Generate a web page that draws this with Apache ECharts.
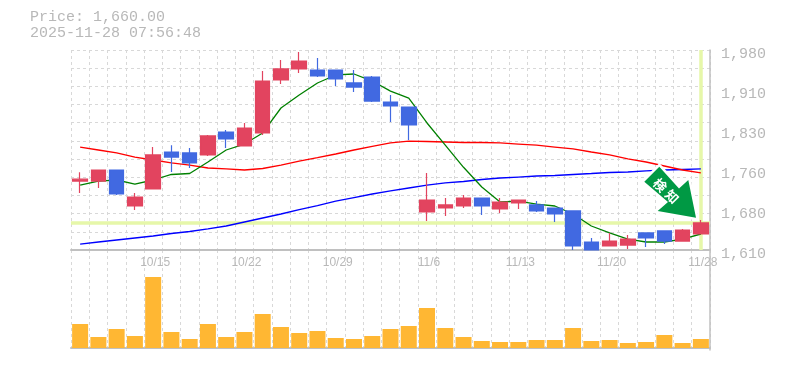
<!DOCTYPE html>
<html>
<head>
<meta charset="utf-8">
<style>html,body{margin:0;padding:0;background:#fff}#c{width:785px;height:370px}</style>
<script src="https://cdn.jsdelivr.net/npm/echarts@6/dist/echarts.min.js"></script>
</head>
<body>
<div id="c"></div>
<script>
const dates = ['10/8','10/9','10/10','10/14','10/15','10/16','10/17','10/20','10/21','10/22','10/23','10/24','10/27','10/28','10/29','10/30','10/31','11/4','11/5','11/6','11/7','11/10','11/11','11/12','11/13','11/14','11/17','11/18','11/19','11/20','11/21','11/25','11/26','11/27','11/28'];
const opens  = [1737.6,1737.6,1758,1691.4,1723,1791.3,1789.5,1785.8,1828.3,1802.4,1826.5,1924.5,1944.9,1943,1943,1919,1930,1883.8,1874.5,1680.3,1687.7,1691.4,1706.2,1685.9,1697,1693.3,1687.7,1682.2,1624.8,1617.4,1619.2,1641.5,1645.2,1626.6,1639.6];
const closes = [1741,1758,1713.6,1708,1785.8,1782,1771,1821,1815.4,1835.7,1922.6,1944.9,1959.6,1931.9,1926.4,1911.5,1885.6,1876.4,1841.3,1702.5,1693.3,1706.2,1691.4,1698.8,1702.5,1682.2,1676.6,1617.4,1610,1626.6,1630.3,1632.2,1626.6,1647,1660];
const lows   = [1715.5,1724.7,1711.8,1684,1723,1754.3,1761.7,1784,1798.7,1802.4,1822.8,1917,1937.5,1930,1913.4,1902.3,1883.8,1846.8,1813.5,1663.6,1673,1687.7,1674.8,1678.5,1685.9,1680.3,1661.8,1610,1610,1617.4,1612,1615.6,1621.1,1626.6,1639.6];
const highs  = [1754,1758,1758,1715.5,1800.5,1804,1798.7,1822.8,1832,1845,1941,1961.5,1976.3,1965.2,1943,1943,1931.9,1896.8,1874.5,1752.4,1706.2,1711.8,1706.2,1706.2,1702.5,1700.6,1687.7,1682.2,1632.2,1641.5,1637.8,1641.5,1645.2,1648.9,1665.5];
const maShort = [1730,1737.6,1739.5,1732,1739.5,1749.7,1751.5,1772.8,1795,1806,1826.5,1872.7,1896.8,1919,1933.8,1935.6,1922.6,1904,1891,1845,1804,1763,1726.5,1698.8,1700.6,1695,1691.4,1676.6,1654.4,1641.5,1630.3,1624.8,1624.8,1630.3,1639.6];
const maMid = [1800.5,1795,1789.5,1782,1776.5,1771,1767,1761.7,1759.9,1758,1760.8,1767,1774.6,1781,1787.6,1795,1801.5,1808,1811.6,1810.7,1809.8,1808.9,1808.9,1808,1806,1804,1800.5,1796.9,1791.3,1785.8,1778.4,1772.8,1765.4,1758,1752.5];
const maLong = [1621,1624.8,1628.5,1632.2,1635.9,1640.5,1644.2,1648.9,1654.4,1661.8,1669.2,1676.6,1684.9,1692.3,1700.6,1707.1,1713.6,1719.2,1724.7,1730.2,1734,1736.7,1740.4,1743.2,1745,1746.9,1747.8,1749.7,1751.5,1753.4,1754.3,1756.2,1758,1758.9,1759.9];
const volumes = [24,11,19,12,71,16,9,24,11,16,34,21,15,17,10,9,12,19,22,40,20,11,7,6,6,8,8,20,7,8,5,6,13,5,9];
const priceTicks = ['1,610','1,680','1,760','1,830','1,910','1,980'];
const lastPrice = 1660;
const lastDate = '11/28';
const titleLines = ['Price: 1,660.00','2025-11-28 07:56:48'];
const badge = ['検','知'];

const GRID='#d8d8d8', FRAME='#c0c0c0', TXT='#b8b8b8', BAND='#e6f7a9';
const dashed={show:true,lineStyle:{color:GRID,type:[3,3],width:1}};
const mono='"Liberation Mono",monospace';
const arrowPoints=[[659.3,166.7],[644.3,181.7],[668,202],[657.7,211],[696,217.7],[688.3,180],[679,188.5]];
const chart=echarts.init(document.getElementById('c'),null,{renderer:'canvas'});
const lineSeries=(name,data,color)=>({name,type:'line',data,xAxisIndex:0,yAxisIndex:0,symbol:'none',z:3,silent:true,
  lineStyle:{color,width:1.3},animation:false});
chart.setOption({
  animation:false,
  backgroundColor:'#fff',
  grid:[{left:71,right:75,top:50,height:200},{left:71,right:75,top:250,height:100}],
  xAxis:[
    {type:'category',gridIndex:0,data:dates,boundaryGap:true,
     axisLine:{show:true,lineStyle:{color:FRAME,width:2}},axisTick:{show:false},
     splitLine:Object.assign({interval:0},dashed),
     axisLabel:{interval:i=>i%5===4,color:TXT,fontFamily:'"Liberation Sans",sans-serif',fontSize:12,margin:7,hideOverlap:false,showMaxLabel:true,padding:[0,0,0,4]}},
    {type:'category',gridIndex:1,data:dates,boundaryGap:true,
     axisLine:{show:true,lineStyle:{color:FRAME,width:2}},axisTick:{show:false},axisLabel:{show:false},
     splitLine:Object.assign({interval:0},dashed)}
  ],
  yAxis:[
    {type:'value',gridIndex:0,position:'right',min:1610,max:1980,scale:true,
     axisLine:{show:true,onZero:false,lineStyle:{color:FRAME,width:1.5}},axisTick:{show:false},axisLabel:{show:false},splitLine:{show:false}},
    {type:'value',gridIndex:0,position:'left',min:0,max:11,interval:1,
     axisLine:{show:false},axisTick:{show:false},axisLabel:{show:false},splitLine:dashed},
    {type:'value',gridIndex:0,position:'right',min:0,max:5,interval:1,
     axisLine:{show:false},axisTick:{show:false},splitLine:{show:false},
     axisLabel:{color:TXT,fontFamily:mono,fontSize:15,margin:11,verticalAlign:'top',lineHeight:8,formatter:v=>priceTicks[v]}},
    {type:'value',gridIndex:1,position:'right',min:-2,max:98,
     axisLine:{show:true,onZero:false,lineStyle:{color:FRAME,width:1.5}},axisTick:{show:false},axisLabel:{show:false},splitLine:{show:false}}
  ],
  series:[
    {name:'last',type:'line',data:[],xAxisIndex:0,yAxisIndex:0,z:2,silent:true,
     markLine:{z:2,silent:true,symbol:'none',animation:false,label:{show:false},
       lineStyle:{color:BAND,width:3.5,type:'solid'},
       data:[{yAxis:lastPrice},{xAxis:lastDate}]}},
    lineSeries('MA long',maLong,'#0000ff'),
    lineSeries('MA mid',maMid,'#ff0000'),
    lineSeries('MA short',maShort,'#008000'),
    {name:'price',type:'candlestick',xAxisIndex:0,yAxisIndex:0,z:4,silent:true,barWidth:15,
     data:dates.map((_,i)=>[opens[i],closes[i],lows[i],highs[i]]),
     itemStyle:{color:'#e2445f',color0:'#4169e1',borderColor:'#e2445f',borderColor0:'#4169e1',borderWidth:1.2}},
    {name:'volume',type:'bar',xAxisIndex:1,yAxisIndex:3,data:volumes,barWidth:16,z:3,silent:true,
     itemStyle:{color:'#ffb733'}}
  ],
  graphic:[
    {type:'text',left:30,top:10,style:{text:titleLines[0],fill:TXT,font:'15px '+mono}},
    {type:'text',left:30,top:26,style:{text:titleLines[1],fill:TXT,font:'15px '+mono}},
    {type:'polygon',z:10,silent:true,shape:{points:arrowPoints},
     style:{fill:'#fff',stroke:'#fff',lineWidth:5,lineJoin:'miter'}},
    {type:'polygon',z:11,silent:true,shape:{points:arrowPoints},style:{fill:'#009944'}},
    {type:'text',z:12,silent:true,x:660,y:185,rotation:-Math.PI/4,
     style:{text:badge[0],fill:'#fff',font:'bold 13px "Noto Sans CJK JP"',align:'center',verticalAlign:'middle'}},
    {type:'text',z:12,silent:true,x:672,y:196.5,rotation:-Math.PI/4,
     style:{text:badge[1],fill:'#fff',font:'bold 13px "Noto Sans CJK JP"',align:'center',verticalAlign:'middle'}}
  ]
});
</script>
</body>
</html>
